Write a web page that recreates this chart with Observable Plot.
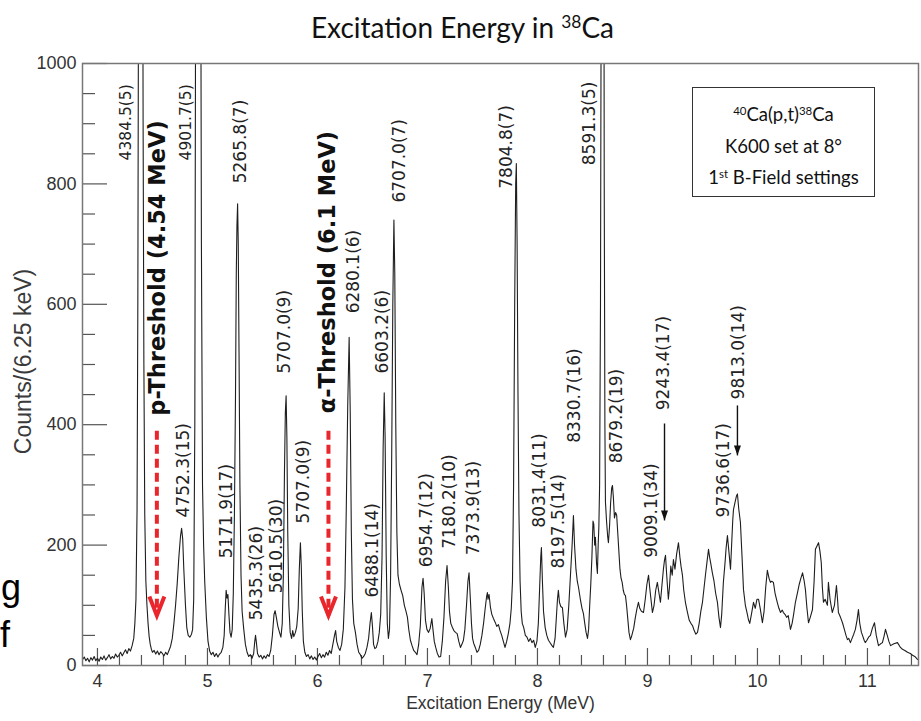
<!DOCTYPE html>
<html>
<head>
<meta charset="utf-8">
<script src="https://cdn.jsdelivr.net/npm/d3@7"></script>
<script src="https://cdn.jsdelivr.net/npm/@observablehq/plot@0.6"></script>
<style>
  body { margin: 0; background: #fff; }
  #wrap { position: relative; width: 921px; height: 721px; overflow: hidden; background: #fff; }
  #wrap svg { position: absolute; left: 0; top: 0; }
  .title { position: absolute; left: 2px; top: 7px; width: 921px; text-align: center;
           font-family: Lato, "Open Sans", sans-serif; font-size: 28px; color: #111; line-height: 40px; }
  .title sup { font-size: 0.62em; vertical-align: 0.6em; line-height: 0; }
  .box { position: absolute; left: 692px; top: 87px; width: 183px; height: 110px; box-sizing: border-box;
         border: 1.5px solid #333; font-family: Lato, sans-serif; font-size: 18.5px; text-align: center;
         color: #111; line-height: 31.5px; padding-top: 11px; }
  .box sup { font-size: 0.62em; vertical-align: 0.55em; line-height: 0; }
  .side { position: absolute; font-family: "Liberation Sans", Arial, sans-serif; font-size: 36px; line-height: 36px; color: #000; }
</style>
</head>
<body>
<div id="wrap">
  <div class="title">Excitation Energy in <sup>38</sup>Ca</div>
  <div class="box">
    <div><sup>40</sup>Ca(p,t)<sup>38</sup>Ca</div>
    <div>K600 set at 8°</div>
    <div>1<sup>st</sup> B-Field settings</div>
  </div>
  <div class="side" style="left:1px;top:570px;">g</div>
  <div class="side" style="left:0px;top:617px;">f</div>
</div>
<script>
// ---- data ----
// spectrum: [excitation energy (MeV), counts per 6.25 keV]
const spectrum = [
[3.865,10],[3.88,14],[3.895,8],[3.91,12],[3.925,6],[3.94,13],[3.955,9],[3.97,15],[3.985,8],[4.0,12],
[4.015,7],[4.03,14],[4.045,10],[4.06,16],[4.075,9],[4.09,13],[4.105,18],[4.12,11],[4.135,15],[4.15,12],
[4.165,19],[4.18,14],[4.195,17],[4.21,22],[4.225,16],[4.24,21],[4.255,26],[4.27,20],[4.285,28],[4.30,24],
[4.315,33],[4.33,45],[4.34,70],[4.35,110],[4.36,260],[4.367,600],[4.375,1300],[4.39,2300],[4.405,1800],[4.415,900],
[4.422,500],[4.43,250],[4.44,140],[4.45,100],[4.46,70],[4.47,48],[4.48,35],[4.49,27],[4.50,22],[4.515,25],
[4.53,19],[4.545,24],[4.56,18],[4.575,23],[4.59,20],[4.605,16],[4.62,22],[4.635,18],[4.65,25],[4.665,32],
[4.68,45],[4.695,70],[4.71,100],[4.725,136],[4.74,180],[4.755,215],[4.765,228],[4.775,210],[4.785,160],[4.80,100],
[4.812,63],[4.825,50],[4.84,47],[4.855,52],[4.865,60],[4.875,110],[4.885,400],[4.895,1400],[4.915,2300],[4.935,1500],
[4.945,700],[4.955,300],[4.965,200],[4.975,140],[4.99,80],[5.005,40],[5.02,24],[5.035,18],[5.05,22],[5.065,15],
[5.08,20],[5.095,14],[5.11,19],[5.125,22],[5.14,30],[5.152,50],[5.162,95],[5.17,125],[5.178,112],[5.186,118],
[5.195,85],[5.205,55],[5.215,47],[5.225,60],[5.235,120],[5.245,250],[5.255,450],[5.262,650],[5.268,730],[5.274,767],
[5.28,700],[5.287,520],[5.295,300],[5.305,150],[5.315,90],[5.33,60],[5.345,35],[5.36,22],[5.375,15],[5.39,18],
[5.405,12],[5.42,20],[5.43,40],[5.437,50],[5.445,38],[5.455,20],[5.47,14],[5.485,17],[5.50,11],[5.515,16],
[5.53,12],[5.545,18],[5.56,15],[5.575,25],[5.59,50],[5.605,85],[5.615,91],[5.627,79],[5.64,65],[5.655,55],
[5.668,47],[5.68,70],[5.69,150],[5.70,320],[5.708,420],[5.715,448],[5.722,380],[5.73,220],[5.74,100],[5.752,55],
[5.765,45],[5.775,58],[5.785,48],[5.80,55],[5.812,65],[5.825,95],[5.835,160],[5.845,204],[5.853,165],[5.862,90],
[5.872,40],[5.885,22],[5.90,15],[5.915,18],[5.93,11],[5.945,16],[5.96,10],[5.975,14],[5.99,9],[6.005,15],
[6.02,20],[6.035,13],[6.05,18],[6.065,14],[6.08,22],[6.095,17],[6.11,25],[6.125,20],[6.14,35],[6.155,50],
[6.165,58],[6.175,40],[6.19,30],[6.205,25],[6.22,35],[6.235,60],[6.25,130],[6.262,260],[6.275,430],[6.288,545],
[6.298,420],[6.308,220],[6.318,110],[6.33,70],[6.345,55],[6.36,35],[6.375,22],[6.39,18],[6.405,12],[6.42,15],
[6.435,20],[6.45,30],[6.465,45],[6.478,70],[6.49,88],[6.50,65],[6.51,35],[6.522,28],[6.535,30],[6.55,40],
[6.562,55],[6.575,85],[6.587,180],[6.597,360],[6.607,453],[6.615,380],[6.625,180],[6.635,70],[6.645,45],[6.655,60],
[6.665,150],[6.675,350],[6.685,600],[6.695,740],[6.703,650],[6.712,400],[6.722,220],[6.732,150],[6.745,135],[6.76,125],
[6.775,116],[6.79,100],[6.805,90],[6.818,80],[6.83,60],[6.845,42],[6.86,33],[6.875,25],[6.89,22],[6.905,18],
[6.92,35],[6.935,66],[6.95,130],[6.96,145],[6.97,120],[6.982,75],[6.995,60],[7.01,55],[7.025,62],[7.04,78],
[7.05,60],[7.062,40],[7.075,30],[7.09,20],[7.105,14],[7.12,15],[7.135,40],[7.15,80],[7.165,140],[7.178,166],
[7.19,130],[7.20,90],[7.212,70],[7.227,63],[7.24,58],[7.255,55],[7.27,53],[7.285,40],[7.30,30],[7.315,36],
[7.327,42],[7.34,60],[7.355,100],[7.368,140],[7.378,154],[7.39,110],[7.40,70],[7.41,45],[7.42,37],[7.435,30],
[7.45,22],[7.465,25],[7.48,35],[7.495,50],[7.51,70],[7.525,95],[7.538,115],[7.545,121],[7.55,110],[7.56,118],
[7.573,96],[7.585,85],[7.60,78],[7.615,72],[7.63,65],[7.645,68],[7.66,58],[7.675,50],[7.69,40],[7.705,30],
[7.72,40],[7.735,53],[7.75,70],[7.762,95],[7.773,140],[7.783,300],[7.793,600],[7.802,800],[7.808,834],[7.815,700],
[7.823,450],[7.832,250],[7.842,140],[7.852,90],[7.862,70],[7.875,63],[7.89,50],[7.905,47],[7.92,40],[7.935,45],
[7.95,38],[7.965,42],[7.98,30],[7.995,40],[8.008,70],[8.02,130],[8.03,180],[8.036,196],[8.045,140],[8.055,90],
[8.07,63],[8.085,50],[8.10,42],[8.118,37],[8.132,33],[8.145,30],[8.16,45],[8.172,80],[8.182,110],[8.19,125],
[8.20,105],[8.212,98],[8.227,96],[8.24,70],[8.255,47],[8.27,60],[8.285,100],[8.30,150],[8.315,200],[8.327,249],
[8.337,200],[8.35,160],[8.362,140],[8.373,130],[8.39,110],[8.405,95],[8.418,86],[8.43,70],[8.442,55],[8.455,45],
[8.465,60],[8.475,100],[8.485,136],[8.495,180],[8.505,240],[8.512,235],[8.52,200],[8.527,213],[8.537,170],[8.545,153],
[8.552,200],[8.558,229],[8.565,300],[8.573,600],[8.58,1200],[8.59,2500],[8.60,1800],[8.607,800],[8.613,400],[8.618,272],
[8.628,240],[8.638,215],[8.645,204],[8.655,230],[8.665,270],[8.675,295],[8.682,299],[8.69,280],[8.70,245],[8.71,254],
[8.72,250],[8.73,220],[8.74,190],[8.75,160],[8.76,145],[8.77,138],[8.78,125],[8.79,118],[8.80,116],[8.81,100],
[8.82,80],[8.832,55],[8.845,43],[8.855,48],[8.865,55],[8.875,62],[8.89,80],[8.905,95],[8.918,105],[8.93,95],
[8.945,90],[8.964,88],[8.98,110],[8.995,135],[9.01,150],[9.02,130],[9.032,110],[9.045,88],[9.06,100],[9.075,125],
[9.09,138],[9.105,120],[9.118,105],[9.13,130],[9.145,160],[9.155,175],[9.164,183],[9.175,150],[9.19,110],[9.2,130],
[9.212,165],[9.225,150],[9.236,176],[9.25,160],[9.265,185],[9.282,204],[9.295,180],[9.305,165],[9.318,150],[9.33,125],
[9.345,105],[9.364,88],[9.38,75],[9.395,70],[9.41,66],[9.425,58],[9.44,52],[9.455,55],[9.47,70],[9.485,90],
[9.50,105],[9.515,130],[9.527,150],[9.54,170],[9.555,193],[9.565,180],[9.575,170],[9.59,154],[9.605,140],[9.62,120],
[9.636,105],[9.65,80],[9.664,63],[9.675,85],[9.69,138],[9.705,170],[9.715,195],[9.727,216],[9.74,190],[9.755,160],
[9.765,200],[9.775,240],[9.782,259],[9.795,270],[9.81,282],[9.818,285],[9.83,260],[9.845,238],[9.86,180],[9.873,126],
[9.89,100],[9.905,88],[9.918,76],[9.93,70],[9.945,85],[9.964,105],[9.98,95],[9.995,110],[10.01,110],[10.025,95],
[10.045,71],[10.06,90],[10.075,130],[10.09,158],[10.105,145],[10.118,138],[10.13,140],[10.145,138],[10.16,120],[10.18,105],
[10.195,95],[10.21,88],[10.225,92],[10.236,88],[10.25,85],[10.265,80],[10.28,83],[10.3,60],[10.315,70],[10.327,83],
[10.345,105],[10.364,121],[10.38,135],[10.395,145],[10.41,154],[10.425,140],[10.436,126],[10.45,95],[10.464,71],[10.48,80],
[10.5,93],[10.515,140],[10.527,193],[10.54,198],[10.555,204],[10.568,190],[10.58,171],[10.59,130],[10.6,105],[10.615,110],
[10.636,100],[10.645,138],[10.66,110],[10.68,88],[10.7,100],[10.718,133],[10.728,110],[10.736,88],[10.755,80],[10.773,71],
[10.79,60],[10.805,50],[10.818,43],[10.83,45],[10.845,38],[10.86,45],[10.875,52],[10.89,60],[10.905,75],[10.918,93],
[10.93,70],[10.945,55],[10.955,50],[10.97,42],[10.98,38],[10.995,42],[11.01,47],[11.027,50],[11.045,62],[11.064,71],
[11.08,50],[11.1,33],[11.12,36],[11.136,38],[11.15,48],[11.164,60],[11.18,50],[11.195,40],[11.21,33],[11.24,36],
[11.273,38],[11.3,30],[11.318,27],[11.34,25],[11.364,22],[11.39,20],[11.41,17],[11.43,15],[11.455,10]
];

// peak labels: text, energy of label (MeV), counts at the label's lower end
const peakLabels = [
  {t: "5265.8(7)",  E: 5.30,  c: 801},
  {t: "5707.0(9)",  E: 5.70,  c: 485},
  {t: "4752.3(15)", E: 4.782, c: 246},
  {t: "5171.9(17)", E: 5.173, c: 178},
  {t: "5435.3(26)", E: 5.445, c: 75},
  {t: "5610.5(30)", E: 5.627, c: 120},
  {t: "5707.0(9)",  E: 5.873, c: 236},
  {t: "6280.1(6)",  E: 6.327, c: 585},
  {t: "6488.1(14)", E: 6.50,  c: 113},
  {t: "6603.2(6)",  E: 6.59,  c: 485},
  {t: "6707.0(7)",  E: 6.745, c: 769},
  {t: "6954.7(12)", E: 6.99,  c: 163},
  {t: "7180.2(10)", E: 7.20,  c: 194},
  {t: "7373.9(13)", E: 7.418, c: 183},
  {t: "7804.8(7)",  E: 7.718, c: 792},
  {t: "8031.4(11)", E: 8.018, c: 229},
  {t: "8197.5(14)", E: 8.19,  c: 161},
  {t: "8330.7(16)", E: 8.336, c: 370},
  {t: "8591.3(5)",  E: 8.473, c: 831},
  {t: "8679.2(19)", E: 8.722, c: 336},
  {t: "9009.1(34)", E: 9.036, c: 179},
  {t: "9243.4(17)", E: 9.150, c: 424},
  {t: "9736.6(17)", E: 9.695, c: 246},
  {t: "9813.0(14)", E: 9.830, c: 442}
];
const smallPeakLabels = [
  {t: "4384.5(5)", E: 4.264, c: 839},
  {t: "4901.7(5)", E: 4.809, c: 839}
];
const thresholdLabels = [
  {t: "p-Threshold (4.54 MeV)", E: 4.545, c: 415},
  {t: "α-Threshold (6.1 MeV)",  E: 6.09,  c: 419}
];
const thresholdArrows = [
  {E: 4.54, from: 390, to: 83},
  {E: 6.10, from: 390, to: 83}
];
const peakArrows = [
  {E: 9.155, from: 402, to: 241},
  {E: 9.818, from: 432, to: 349}
];
const xTickLabels = [4, 5, 6, 7, 8, 9, 10, 11];
const yTickLabels = [0, 200, 400, 600, 800, 1000];

// ---- chart ----
const xMinor = d3.range(40, 115, 2).map(d => d / 10).filter(d => !Number.isInteger(d));
const yMinor = d3.range(50, 1000, 50).filter(d => d % 200 !== 0);

const vHead = {draw(ctx) { ctx.moveTo(-7.5, -19); ctx.lineTo(0, 0); ctx.lineTo(7.5, -19); }};
const triHead = {draw(ctx) { ctx.moveTo(-3.5, -10); ctx.lineTo(0, 0); ctx.lineTo(3.5, -10); ctx.closePath(); }};

const innerW = 921 - 82 - 3, innerH = 721 - 63 - 56;
const red = "#e8262b";

const chart = Plot.plot({
  width: 921, height: 721,
  marginLeft: 82, marginRight: 3, marginTop: 63, marginBottom: 56,
  x: {domain: [3.864, 11.464], axis: null},
  y: {domain: [0, 1000], axis: null},
  style: {background: "transparent", fontFamily: "Liberation Sans, Arial, sans-serif", overflow: "visible"},
  marks: [
    // ticks (inward)
    Plot.ruleY(yTickLabels, {y: d => d, stroke: "#555", strokeWidth: 1.2, insetRight: innerW - 25}),
    Plot.ruleY(yMinor, {y: d => d, stroke: "#555", strokeWidth: 1.2, insetRight: innerW - 13}),
    Plot.ruleX(xTickLabels, {x: d => d, stroke: "#555", strokeWidth: 1.2, insetTop: innerH - 17}),
    Plot.ruleX(xMinor, {x: d => d, stroke: "#555", strokeWidth: 1.2, insetTop: innerH - 10}),
    // spectrum
    Plot.line(spectrum, {x: d => d[0], y: d => d[1], stroke: "#1e1e1e", strokeWidth: 1.1, clip: true}),
    Plot.frame({stroke: "#777", strokeWidth: 1.5}),
    // tick labels
    Plot.text(yTickLabels, {y: d => d, text: d => String(d), frameAnchor: "left", textAnchor: "end", dx: -6,
      fontSize: 18, fill: "#333"}),
    Plot.text(xTickLabels, {x: d => d, text: d => String(d), frameAnchor: "bottom", dy: 21,
      fontSize: 18, fill: "#333"}),
    // axis titles
    Plot.text(["Excitation Energy (MeV)"], {text: d => d, frameAnchor: "bottom", dy: 43, fontSize: 17.5, fill: "#333"}),
    Plot.text(["Counts/(6.25 keV)"], {text: d => d, frameAnchor: "left", textAnchor: "middle", dx: -59, dy: -3,
      rotate: -90, fontSize: 23, fill: "#3a3a3a"}),
    // peak labels
    Plot.text(peakLabels, {x: "E", y: "c", text: "t", rotate: -90, textAnchor: "start",
      fontFamily: "DejaVu Sans", fontSize: 17, fill: "#222"}),
    Plot.text(smallPeakLabels, {x: "E", y: "c", text: "t", rotate: -90, textAnchor: "start",
      fontFamily: "DejaVu Sans", fontSize: 15.5, fill: "#222"}),
    Plot.text(thresholdLabels, {x: "E", y: "c", text: "t", rotate: -90, textAnchor: "start",
      fontFamily: "DejaVu Sans", fontWeight: "bold", fontSize: 22.5, fill: "#111"}),
    // threshold arrows (red, dashed)
    Plot.link(thresholdArrows, {x1: "E", x2: "E", y1: "from", y2: "to", stroke: red, strokeWidth: 4,
      strokeDasharray: "9,5"}),
    Plot.dot(thresholdArrows, {x: "E", y: "to", symbol: vHead, r: 5, fill: "none", stroke: red, strokeWidth: 4,
      strokeLinejoin: "miter"}),
    // peak arrows (black)
    Plot.link(peakArrows, {x1: "E", x2: "E", y1: "from", y2: "to", stroke: "#111", strokeWidth: 1.4}),
    Plot.dot(peakArrows, {x: "E", y: "to", symbol: triHead, r: 5, fill: "#111", stroke: "none"})
  ]
});
document.getElementById("wrap").prepend(chart);
</script>
</body>
</html>
